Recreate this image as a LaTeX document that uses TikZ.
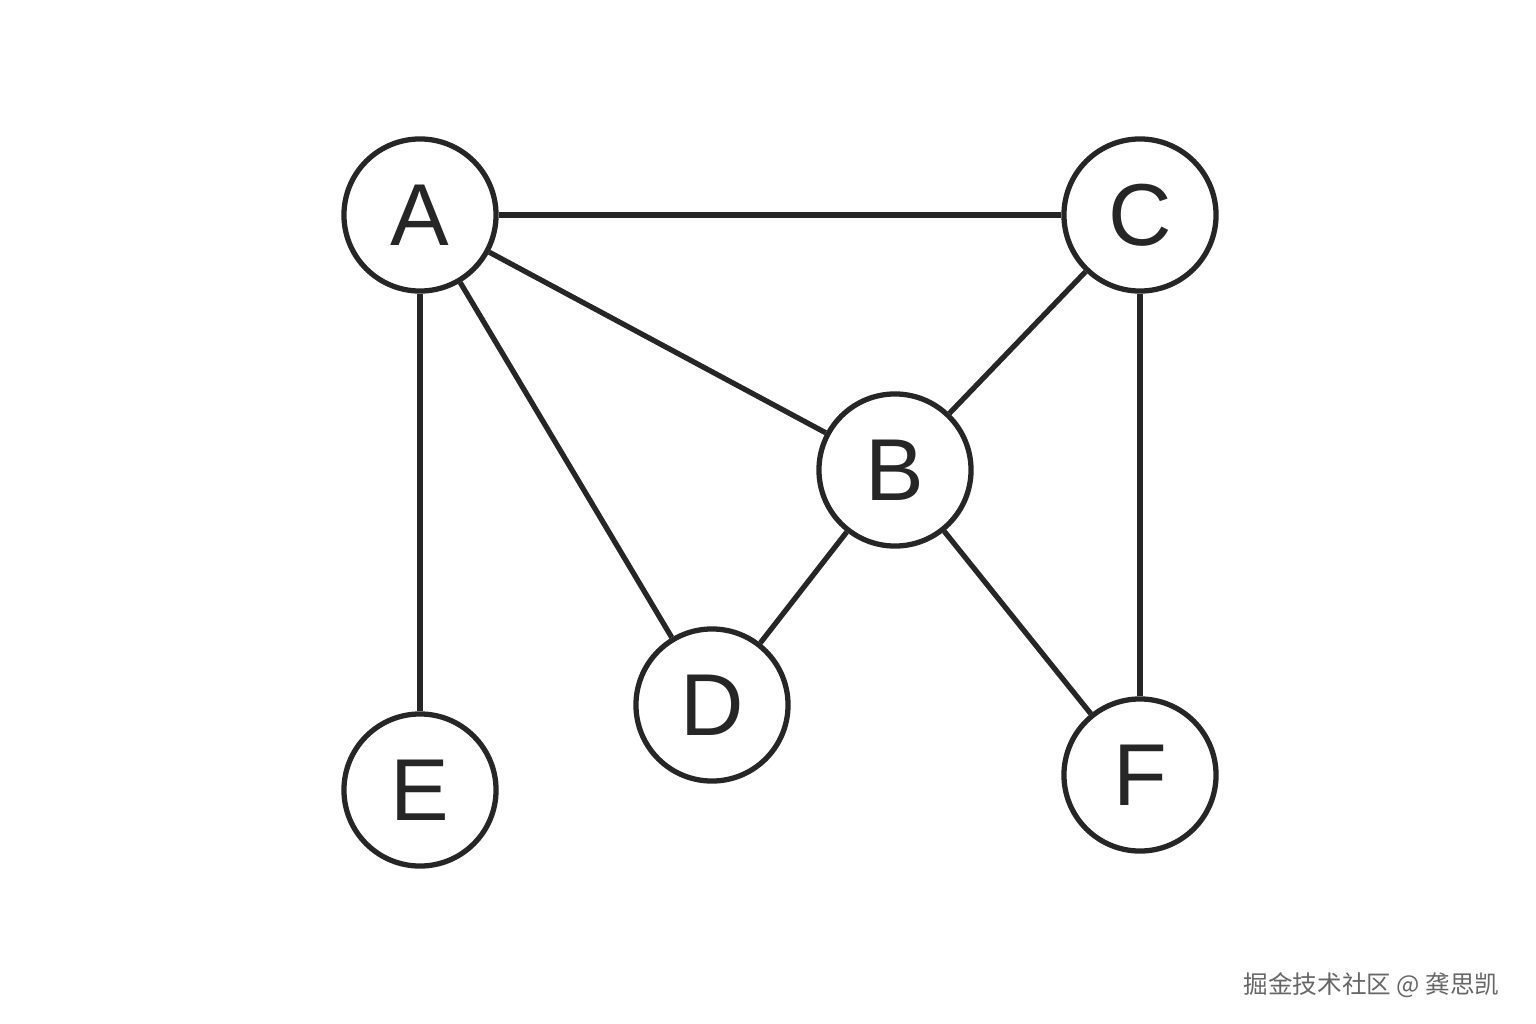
\documentclass[tikz,border=0pt]{standalone}
\usepackage{fontspec}
\setmainfont{Liberation Sans}
\newfontfamily\cjk{Noto Sans CJK SC}
\usetikzlibrary{positioning}
\tikzstyle{vertex} = [circle, draw=black!85, line width=1.5pt, minimum size=1.52cm, inner sep=0pt, font=\fontsize{25}{25}\selectfont, text=black!85]
\tikzstyle{edge} = [draw=black!85, line width=1.5pt]

\begin{document}
\begin{tikzpicture}[x=0.01cm, y=-0.01cm]
		\useasboundingbox (0,0) rectangle (1536,1024);
		
		% Nodes
		\node (A) [vertex] at (420,215) {A};
		\node (C) [vertex] at (1140,215) {C};
		\node (B) [vertex] at (895,470) {B};
		\node (D) [vertex] at (712,705) {D};
		\node (E) [vertex] at (420,790) {E};
		\node (F) [vertex] at (1140,775) {F};
		
		% Edges
		\draw [edge] (A) -- (C);
		\draw [edge] (A) -- (B);
		\draw [edge] (A) -- (D);
		\draw [edge] (A) -- (E);
		\draw [edge] (C) -- (B);
		\draw [edge] (C) -- (F);
		\draw [edge] (B) -- (D);
		\draw [edge] (B) -- (F);
		
		% Watermark
		\node (mark) [anchor=east, text=black!60, font=\cjk\fontsize{7}{7}\selectfont] at (1512,985) {掘金技术社区 @ 龚思凯};
		
	\end{tikzpicture}
\end{document}
